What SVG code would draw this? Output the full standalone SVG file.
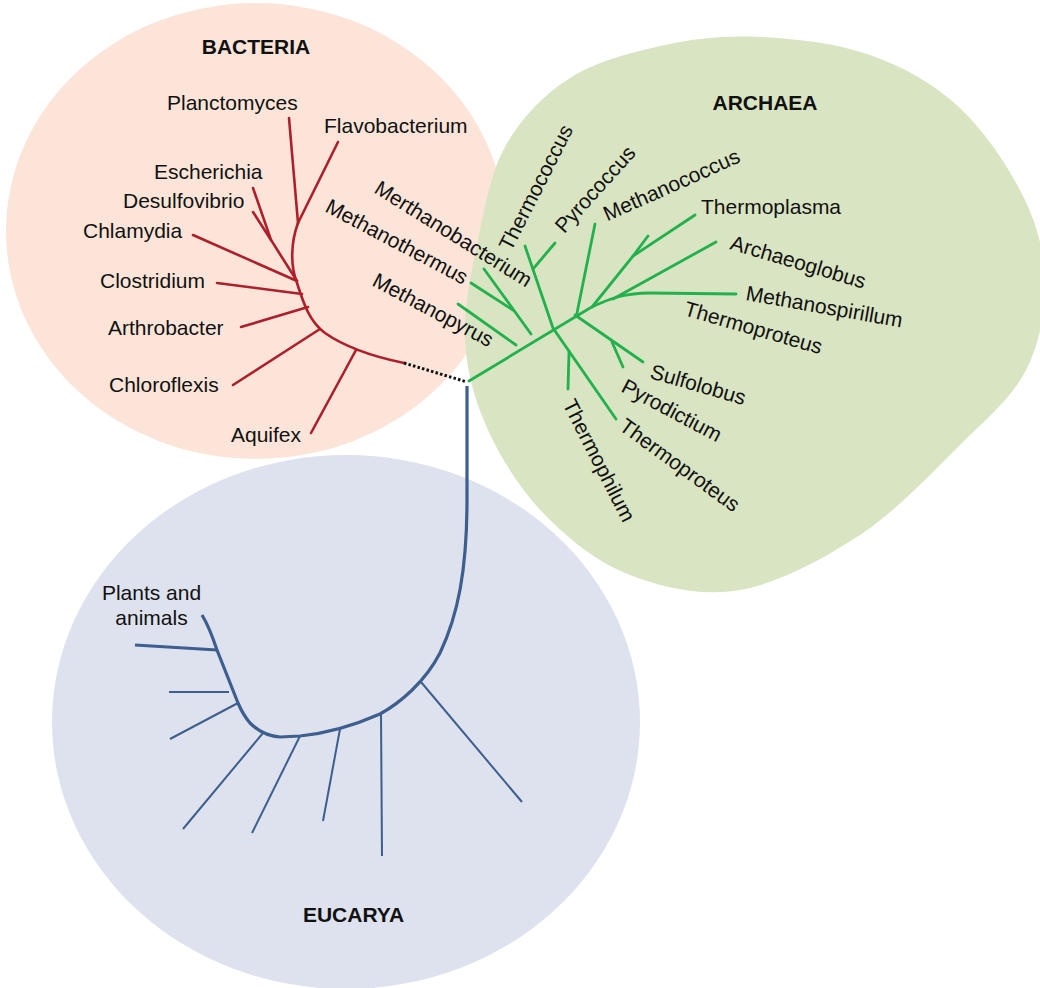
<svg xmlns="http://www.w3.org/2000/svg" width="1040" height="988" viewBox="0 0 1040 988">
<style>
.lbl{font-family:"Liberation Sans",Arial,sans-serif;font-size:21px;fill:#111}
.ttl{font-family:"Liberation Sans",Arial,sans-serif;font-size:21px;font-weight:bold;fill:#111;text-anchor:middle}
.red{stroke:#ad1f2b;stroke-width:2.6;fill:none;stroke-linecap:round}
.grn{stroke:#22b14c;stroke-width:2.8;fill:none;stroke-linecap:round}
.blu{stroke:#3d5e8e;stroke-width:2;fill:none}
.blum{stroke:#3d5e8e;stroke-width:3.2;fill:none}
</style>
<rect width="1040" height="988" fill="#ffffff"/>
<g id="bacteria">
<ellipse cx="256" cy="231" rx="250" ry="228" fill="#fce5d8"/>
</g>
<g id="eucarya">
<ellipse cx="346" cy="722" rx="294" ry="267" fill="#dde2ee"/>
</g>
<g id="archaea">
<path fill="#d9e4c2" d="M760,37 C794.2,38.7 836.7,43.2 870,55 C903.3,66.8 934.2,83.8 960,108 C985.8,132.2 1010.8,170.3 1025,200 C1039.2,229.7 1045,257.3 1045,286 C1045,314.7 1039.2,345.5 1025,372 C1010.8,398.5 987.5,417.8 960,445 C932.5,472.2 896.7,510.8 860,535 C823.3,559.2 778.3,583.3 740,590 C701.7,596.7 662.5,587.5 630,575 C597.5,562.5 568.7,539.2 545,515 C521.3,490.8 501.3,459.2 488,430 C474.7,400.8 466.7,371.7 465,340 C463.3,308.3 471.2,272.5 478,240 C484.8,207.5 490.7,172 506,145 C521.3,118 543.5,94.7 570,78 C596.5,61.3 633.3,51.8 665,45 C696.7,38.2 725.8,35.3 760,37 Z"/>
</g>
<g id="connectors">
<g id="bacteria-tree">
<path class="red" d="M298,223 C291,242 290,265 297,283 C304,305 310,322 325,333 C345,347 370,356 404,363"/>
<path class="red" d="M289,118 L298,223"/>
<path class="red" d="M338,142 L298,223"/>
<path class="red" d="M253,188 L271,240 L297,281"/>
<path class="red" d="M253,212 L271,240"/>
<path class="red" d="M193,235 L297,281"/>
<path class="red" d="M217,283 L302,294"/>
<path class="red" d="M241,327 L308,307"/>
<path class="red" d="M233,385 L320,329"/>
<path class="red" d="M311,433 L356,350"/>
</g>
<path d="M404,363 L467,382" stroke="#111" stroke-width="3" stroke-dasharray="2.5 2.2" fill="none"/>
<g id="archaea-tree">
<path class="grn" d="M469,381 L590,308 C610,298 626,293 650,293 L736,294"/>
<path class="grn" d="M458,304 L516,345"/>
<path class="grn" d="M484,269 L531,334"/>
<path class="grn" d="M471,283 L513,310"/>
<path class="grn" d="M525,246 L553,328 L616,419"/>
<path class="grn" d="M555,243 L533,269"/>
<path class="grn" d="M569,352 L568,389"/>
<path class="grn" d="M595,224 L577,313"/>
<path class="grn" d="M695,215 L633,256 L592,307"/>
<path class="grn" d="M648,236 L633,256"/>
<path class="grn" d="M716,242 L613,299"/>
<path class="grn" d="M575,315 L643,362"/>
<path class="grn" d="M612,342 L623,367"/>
</g>
<g id="eucarya-tree">
<path class="blum" d="M467,386 L467,500 C467,570 458,615 440,653 C425,682 400,703 380,714 C355,725 330,733 300,736 L280,737 C268,736 257,730 250,723 C244,716 241,710 238,703 L217,650 C212,635 207,623 202,615"/>
<path class="blum" d="M135,645 L217,650" stroke-width="2.6"/>
<path class="blu" d="M169,692 L229,692"/>
<path class="blu" d="M170,739 L238,703"/>
<path class="blu" d="M183,829 L263,733"/>
<path class="blu" d="M252,833 L300,736"/>
<path class="blu" d="M323,821 L340,729"/>
<path class="blu" d="M382,856 L381,713"/>
<path class="blu" d="M522,802 L421,682"/>
</g>
</g>
<g id="bacteria-labels">
<text class="ttl" x="256" y="54">BACTERIA</text>
<text class="lbl" x="167" y="110">Planctomyces</text>
<text class="lbl" x="324" y="133">Flavobacterium</text>
<text class="lbl" x="154" y="179">Escherichia</text>
<text class="lbl" x="123" y="208">Desulfovibrio</text>
<text class="lbl" x="83" y="238">Chlamydia</text>
<text class="lbl" x="100" y="288">Clostridium</text>
<text class="lbl" x="108" y="335">Arthrobacter</text>
<text class="lbl" x="109" y="392">Chloroflexis</text>
<text class="lbl" x="231" y="442">Aquifex</text>
</g>
<g id="archaea-labels">
<text class="ttl" x="765" y="110">ARCHAEA</text>
<text class="lbl" transform="translate(373,192) rotate(32)">Merthanobacterium</text>
<text class="lbl" transform="translate(324,211) rotate(28)">Methanothermus</text>
<text class="lbl" transform="translate(371,285) rotate(28)">Methanopyrus</text>
<text class="lbl" text-anchor="middle" transform="translate(537,188) rotate(-63)" y="6">Thermococcus</text>
<text class="lbl" text-anchor="middle" transform="translate(596,190) rotate(-48)" y="6">Pyrococcus</text>
<text class="lbl" text-anchor="middle" transform="translate(672,186) rotate(-24)" y="6">Methanococcus</text>
<text class="lbl" x="701" y="214">Thermoplasma</text>
<text class="lbl" transform="translate(729,249) rotate(16.5)">Archaeoglobus</text>
<text class="lbl" transform="translate(745,300) rotate(10)">Methanospirillum</text>
<text class="lbl" transform="translate(683,315) rotate(16)">Thermoproteus</text>
<text class="lbl" transform="translate(649,378) rotate(16)">Sulfolobus</text>
<text class="lbl" transform="translate(620,391) rotate(28)">Pyrodictium</text>
<text class="lbl" transform="translate(618,429) rotate(36)">Thermoproteus</text>
<text class="lbl" text-anchor="middle" transform="translate(598,461) rotate(63)" y="6">Thermophilum</text>
</g>
<g id="eucarya-labels">
<text class="ttl" x="353.5" y="922">EUCARYA</text>
<text class="lbl" x="151.5" y="600" text-anchor="middle">Plants and</text>
<text class="lbl" x="151.5" y="625" text-anchor="middle">animals</text>
</g>
</svg>
